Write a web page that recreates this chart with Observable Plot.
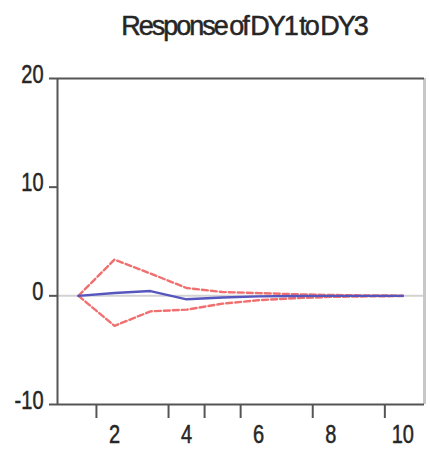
<!DOCTYPE html>
<html>
<head>
<meta charset="utf-8">
<script src="https://cdn.jsdelivr.net/npm/d3@7"></script>
<script src="https://cdn.jsdelivr.net/npm/@observablehq/plot@0.6"></script>
<style>
  html, body { margin: 0; padding: 0; background: #fff; }
  #chart svg { display: block; }
</style>
</head>
<body>
<div id="chart"></div>
<script>
// Impulse response of DY1 to a DY3 shock, with ±2 S.E. bands
const titleText = "Response of DY1 to DY3";
const periods  = [1, 2, 3, 4, 5, 6, 7, 8, 9, 10];
const response = [0, 0.26, 0.44, -0.32, -0.15, -0.05, -0.02, 0, 0, 0];
const upperBand = [0, 3.33, 2.05, 0.72, 0.35, 0.25, 0.15, 0.08, 0.04, 0.02];
const lowerBand = [0, -2.76, -1.43, -1.27, -0.72, -0.40, -0.22, -0.10, -0.05, -0.02];
const xTickMarks = [1.5, 3.5, 4.5, 5.5, 7.5, 9.5];
const xTickLabels = [2, 4, 6, 8, 10];
const yTickLabels = [-10, 0, 10, 20];
const xDomain = [0.42, 10.6];
const yDomain = [-10, 20];

const toRows = (vals) => periods.map((p, i) => ({period: p, value: vals[i]}));

const font = "'Liberation Sans', Arial, sans-serif";
const ink = "#262626";

const chart = Plot.plot({
  width: 430,
  height: 457,
  marginTop: 78,
  marginBottom: 53,
  marginLeft: 57,
  marginRight: 6,
  style: {fontFamily: font, background: "#fff"},
  x: {domain: xDomain, label: null},
  y: {domain: yDomain, label: null},
  marks: [
    Plot.ruleY([0], {stroke: "#d2d2d2", strokeWidth: 2}),
    // plot box
    Plot.ruleX([xDomain[1]], {stroke: "#c8c8c8", strokeWidth: 3}),
    Plot.ruleY([yDomain[1]], {stroke: "#555", strokeWidth: 2}),
    Plot.ruleY([yDomain[0]], {stroke: "#555", strokeWidth: 2}),
    Plot.ruleX([xDomain[0]], {stroke: "#555", strokeWidth: 2}),
    Plot.line(toRows(upperBand), {x: "period", y: "value", stroke: "#f07070", strokeWidth: 2.4, strokeDasharray: "6,3"}),
    Plot.line(toRows(lowerBand), {x: "period", y: "value", stroke: "#f07070", strokeWidth: 2.4, strokeDasharray: "6,3"}),
    Plot.line(toRows(response), {x: "period", y: "value", stroke: "#5656bf", strokeWidth: 2.4}),
    // y ticks, then their labels nudged slightly upward
    Plot.axisY(yTickLabels, {label: null, tickSize: 8, tickFormat: () => "", stroke: "#555", strokeWidth: 2}),
    Plot.axisY(yTickLabels, {label: null, tickSize: 0, tickPadding: 14, dy: -4, fontSize: 25, fill: ink, tickFormat: (d) => String(d)}),
    // x ticks sit between periods; labels sit on even periods
    Plot.axisX(xTickMarks, {label: null, tickSize: 14, tickFormat: () => "", stroke: "#555", strokeWidth: 2}),
    Plot.axisX(xTickLabels, {label: null, tickSize: 0, tickPadding: 21, fontSize: 25, fill: ink}),
    Plot.text([titleText], {frameAnchor: "top", lineAnchor: "bottom", dy: -44, dx: 3, fontSize: 27, fill: ink})
  ]
});

// narrow, heavy type like the original face
for (const t of chart.querySelectorAll("text")) {
  const txt = t.textContent;
  if (!txt) continue;
  t.style.stroke = ink;
  t.style.strokeWidth = "0.5px";
  if (txt === titleText) {
    t.style.letterSpacing = "-2px";
    t.style.wordSpacing = "-3px";
  } else if (/^-?\d+$/.test(txt)) {
    t.setAttribute("transform", (t.getAttribute("transform") || "") + " scale(0.8,1)");
  }
}

document.getElementById("chart").appendChild(chart);
</script>
</body>
</html>
